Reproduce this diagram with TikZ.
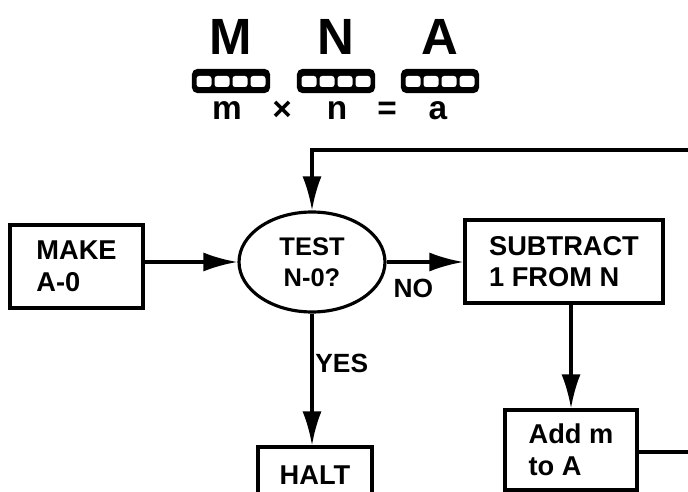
\documentclass[tikz,border=0pt]{standalone}
\usepackage{fontspec}
\setmainfont{Liberation Sans}
\usetikzlibrary{shapes.geometric, arrows.meta, positioning}

\tikzset{
    box/.style = {draw, line width = 1.8pt, align = left, inner sep = 0pt,
        font = \bfseries\fontsize{15.5}{18}\selectfont},
    decision/.style = {ellipse, draw, line width = 1.8pt, align = center, inner sep = 0pt,
        minimum width = 2.92cm, minimum height = 2cm,
        font = \bfseries\fontsize{14.5}{17.5}\selectfont},
    flow/.style = {line width = 1.8pt, -{Latex[length = 0.68cm, width = 0.38cm]}},
    wire/.style = {line width = 1.8pt},
    edgelabel/.style = {font = \bfseries\fontsize{15}{16}\selectfont, inner sep = 1pt},
    register/.style = {draw, fill, rounded corners = 3pt, line width = 0.8pt,
        minimum width = 1.54cm, minimum height = 0.46cm, inner sep = 0pt},
    bigletter/.style = {font = \bfseries\fontsize{29}{30}\selectfont, inner sep = 0pt},
    smallletter/.style = {font = \bfseries\fontsize{19}{20}\selectfont, inner sep = 0pt}
}

\begin{document}
\begin{tikzpicture}[x = 0.02cm, y = -0.02cm]
    \clip (0, 0) rectangle (688, 492);
    \useasboundingbox (0, 0) rectangle (688, 492);

    % registers M, N, A
    \foreach \L/\x in {M/231, N/336, A/440}
    {
        \node [bigletter] (letter\L) at (\x, 37) {\L};
        \node [register] (reg\L) at (\x, 81) {};
        \foreach \i in {0, ..., 3}
        {
            \fill [white, rounded corners = 1.5pt] (\x - 34.5 + \i * 18, 76) rectangle ++(15, 11);
        }
    }
    \node [smallletter] (lm) at (227, 111) {m};
    \node [smallletter] (ltimes) at (282, 111) {×};
    \node [smallletter] (ln) at (337, 111) {n};
    \node [smallletter] (leq) at (387, 111) {=};
    \node [smallletter] (la) at (438, 111) {a};

    % flow chart
    \node [box, minimum width = 2.66cm, minimum height = 1.66cm] (make) at (76.5, 266.5) {MAKE\\A-0};
    \node [decision] (test) at (312, 262) {TEST\\N-0?};
    \node [box, minimum width = 3.96cm, minimum height = 1.66cm] (subtract) at (564, 261.5) {SUBTRACT\\1 FROM N};
    \node [box, minimum width = 2.64cm, minimum height = 1.6cm] (add) at (571, 450) {Add m\\to A};
    \node [box, minimum width = 2.28cm, minimum height = 1.12cm] (halt) at (315, 475) {HALT};

    \coordinate (loopR) at (700, 150);
    \coordinate (addR) at (700, 452);

    \draw [flow] (make.east |- test.west) -- (test.west);
    \draw [flow] (test.east) -- node [edgelabel, pos = 0.35, below = 8pt] {NO} (subtract.west |- test.east);
    \draw [flow] (test.south) -- node [edgelabel, pos = 0.38, right = 0pt] {YES} (test.south |- halt.north);
    \draw [flow] (subtract.south -| add.north) -- (add.north);
    \draw [flow] (loopR) -| (test.north);
    \draw [wire] (add.east |- addR) -- (addR);
\end{tikzpicture}
\end{document}
